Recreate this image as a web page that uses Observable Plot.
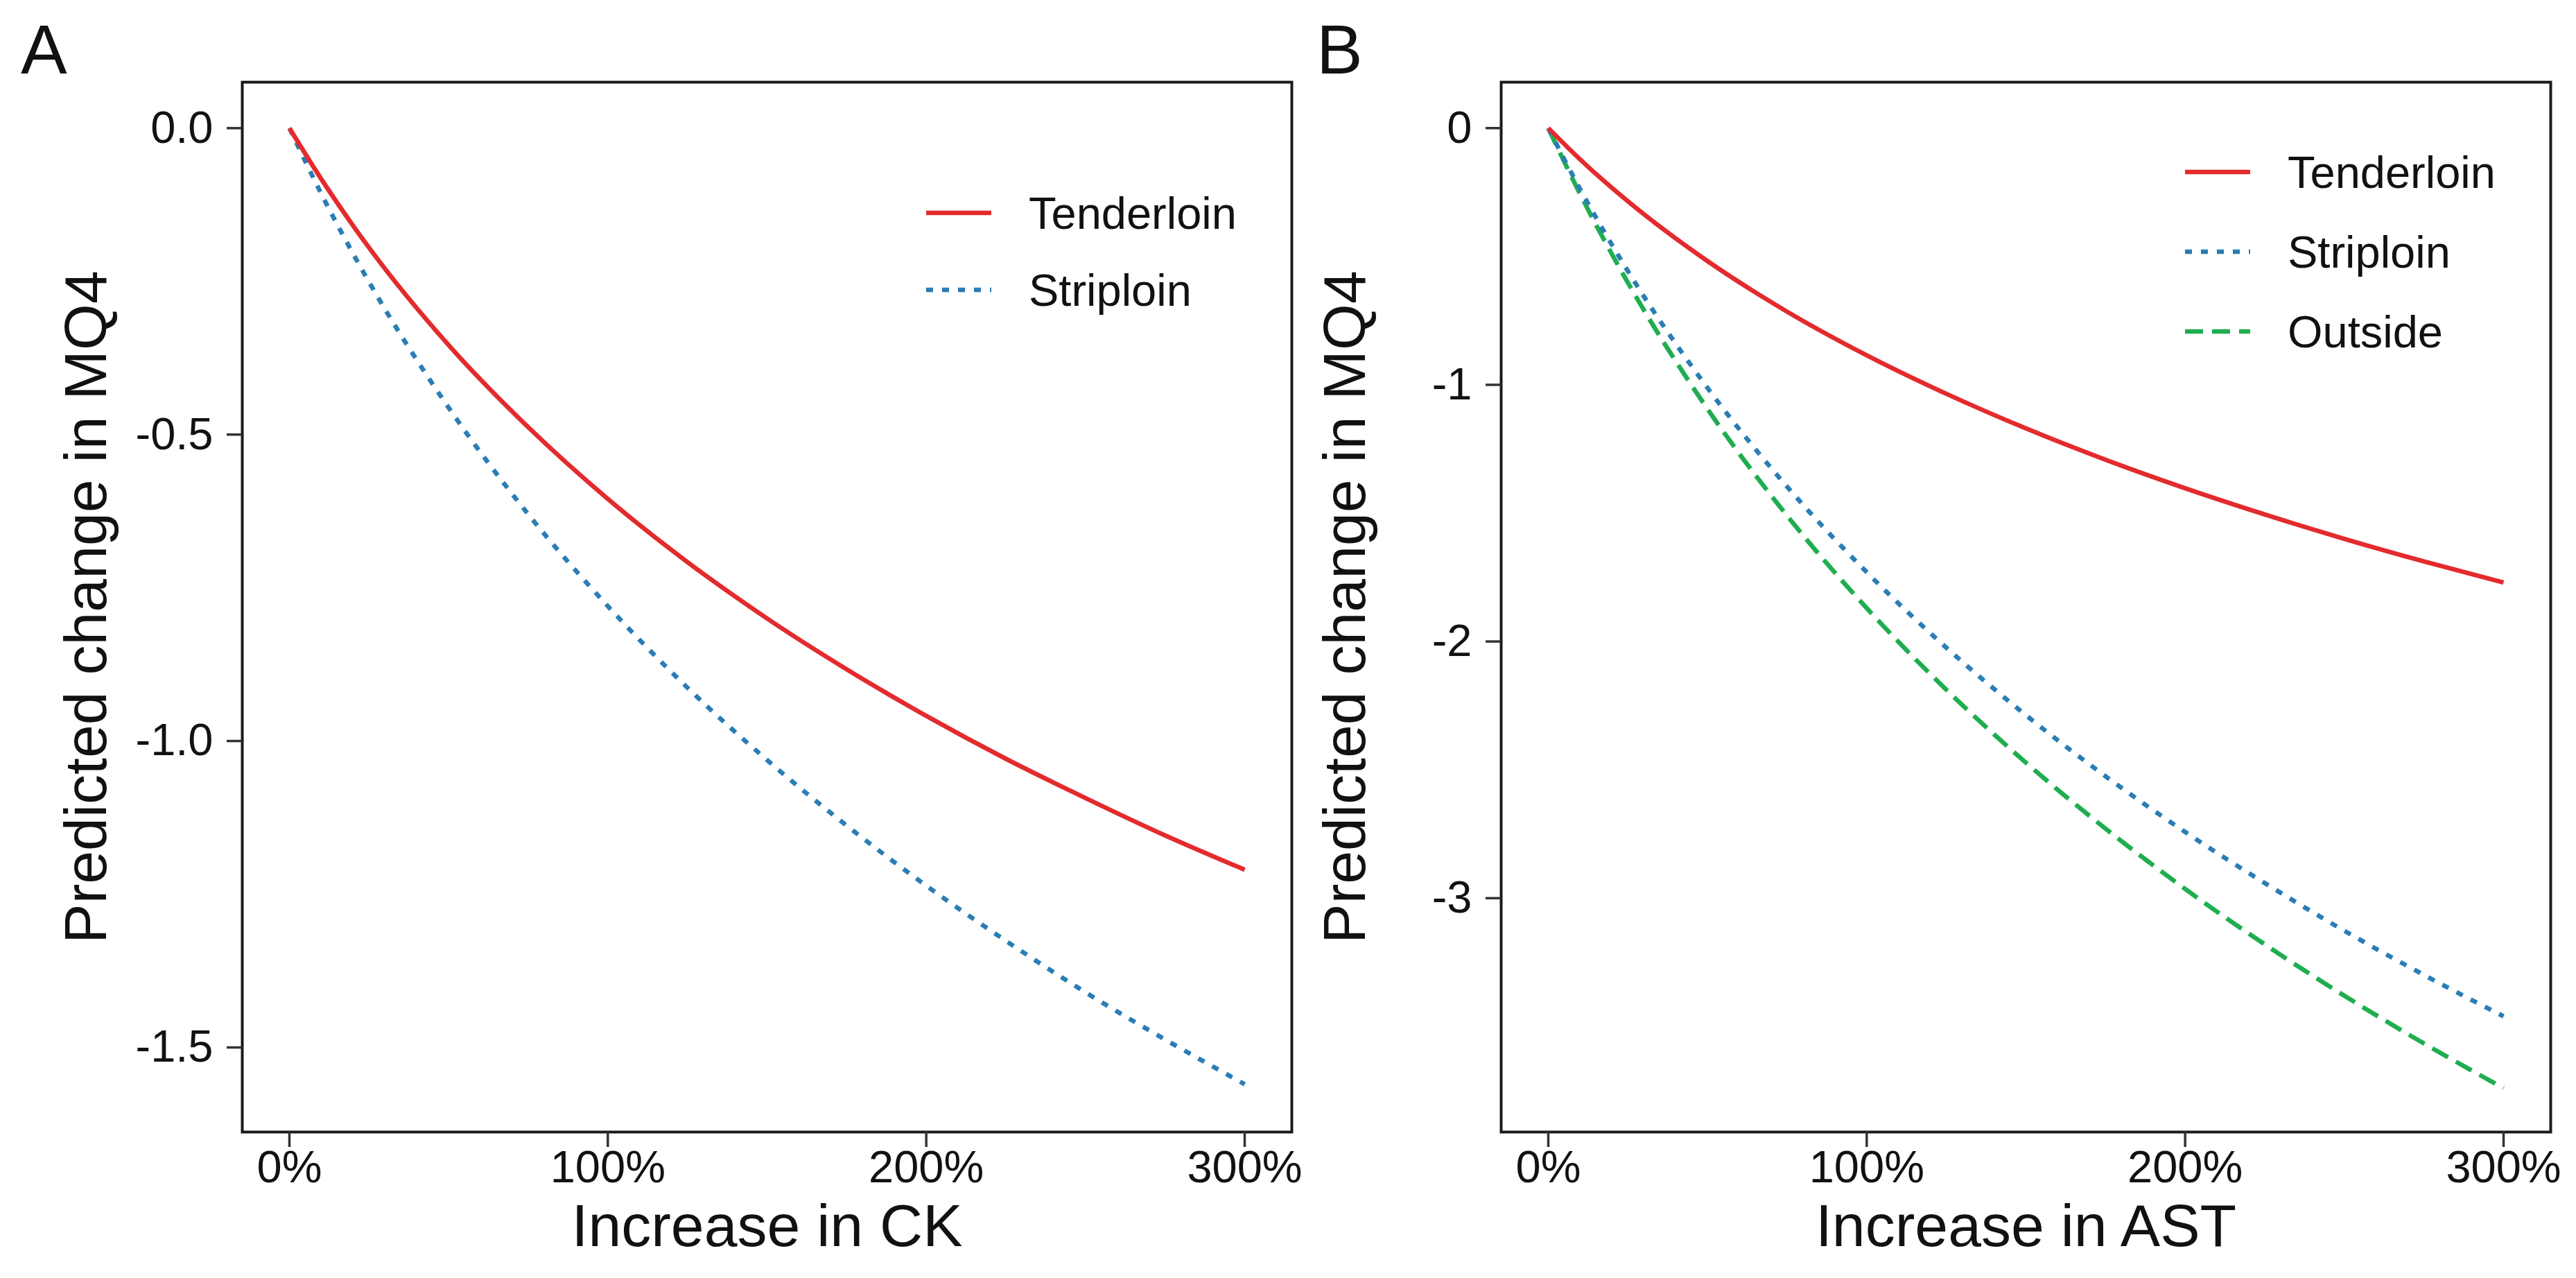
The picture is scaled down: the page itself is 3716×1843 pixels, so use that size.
<!DOCTYPE html>
<html><head><meta charset="utf-8">
<script src="https://cdn.jsdelivr.net/npm/d3@7"></script>
<script src="https://cdn.jsdelivr.net/npm/@observablehq/plot@0.6"></script>
<style>
html,body{margin:0;padding:0;background:#fff;}
#wrap{position:relative;width:3716px;height:1843px;overflow:hidden;background:#fff;}
#wrap > div{position:absolute;top:0;}
</style></head><body>
<div id="wrap"><div id="pa" style="left:0"></div><div id="pb" style="left:1816px"></div></div>
<script>
// Increase (%) in the biomarker
const increase = [0, 10, 25, 50, 75, 100, 125, 150, 175, 200, 225, 250, 275, 300];
const xTickValues = [0, 100, 200, 300];

// Panel A: CK
const ckTenderloin = [0, -0.083, -0.195, -0.354, -0.488, -0.605, -0.708, -0.800, -0.883, -0.959, -1.029, -1.093, -1.154, -1.210];
const ckStriploin  = [0, -0.107, -0.251, -0.456, -0.630, -0.780, -0.913, -1.031, -1.138, -1.236, -1.326, -1.410, -1.487, -1.560];
const ckTicks = [0, -0.5, -1.0, -1.5];

// Panel B: AST
const astTenderloin = [0, -0.122, -0.285, -0.518, -0.715, -0.885, -1.035, -1.170, -1.292, -1.403, -1.505, -1.600, -1.688, -1.770];
const astStriploin  = [0, -0.238, -0.557, -1.012, -1.397, -1.730, -2.024, -2.287, -2.525, -2.742, -2.941, -3.127, -3.299, -3.460];
const astOutside    = [0, -0.257, -0.602, -1.094, -1.510, -1.870, -2.188, -2.472, -2.729, -2.964, -3.180, -3.380, -3.566, -3.740];
const astTicks = [0, -1, -2, -3];

const RED = "#e32b2e", BLUE = "#2a7db5", GREEN = "#1fae4f";
const styles = {
  Tenderloin: {stroke: RED, dash: null},
  Striploin: {stroke: BLUE, dash: "10,13"},
  Outside: {stroke: GREEN, dash: "26,13"}
};
const FONT = "'Liberation Sans', Arial, Helvetica, sans-serif";

function panel({series, yDomain, yTicks, yFormat, xTitle, letter, letterX}) {
  const lines = series.map(s => Plot.line(
    increase.map((v, i) => ({x: v, y: s.values[i]})),
    {x: "x", y: "y", stroke: styles[s.name].stroke, strokeWidth: 6.5,
     strokeDasharray: styles[s.name].dash, strokeLinecap: "butt", curve: "monotone-x"}
  ));
  const svg = Plot.plot({
    width: 1900, height: 1843,
    marginLeft: 349, marginRight: 37, marginTop: 118, marginBottom: 211,
    style: {fontFamily: FONT, background: "transparent", overflow: "visible"},
    x: {domain: [-14.8, 314.8]},
    y: {domain: yDomain},
    marks: [
      ...lines.reverse(),
      Plot.frame({stroke: "#1a1a1a", strokeWidth: 4}),
      Plot.axisX({ticks: xTickValues, tickSize: 22, tickPadding: 4, tickFormat: d => d + "%",
                  fontSize: 65, stroke: "#333", strokeWidth: 3.5, fill: "#111", label: null}),
      Plot.axisY({ticks: yTicks, tickSize: 22, tickPadding: 20, tickFormat: yFormat,
                  fontSize: 65, stroke: "#333", strokeWidth: 3.5, fill: "#111", label: null}),
      Plot.text([xTitle], {text: d => d, frameAnchor: "bottom", dy: 164, fontSize: 86, fill: "#111", textAnchor: "middle"}),
      Plot.text(["Predicted change in MQ4"], {text: d => d, frameAnchor: "left", dx: -224, rotate: -90,
                  fontSize: 86, fill: "#111", textAnchor: "middle"})
    ]
  });
  const g = d3.select(svg).append("g").attr("font-family", FONT).attr("text-anchor", "start");
  g.append("text").attr("x", letterX).attr("y", 106).attr("font-size", 100).attr("fill", "#111").text(letter);
  // legend
  const legendY = series.length === 2 ? [307, 418] : [248, 363, 478];
  series.forEach((s, i) => {
    const y = legendY[i];
    g.append("line").attr("x1", 1336).attr("x2", 1430).attr("y1", y).attr("y2", y)
      .attr("stroke", styles[s.name].stroke).attr("stroke-width", 6.5)
      .attr("stroke-dasharray", styles[s.name].dash).attr("stroke-linecap", "butt");
    g.append("text").attr("x", 1484).attr("y", y).attr("dy", "0.36em")
      .attr("font-size", 65).attr("fill", "#111").text(s.name);
  });
  return svg;
}

document.getElementById("pa").append(panel({
  series: [{name: "Tenderloin", values: ckTenderloin}, {name: "Striploin", values: ckStriploin}],
  yDomain: [-1.638, 0.075], yTicks: ckTicks, yFormat: d => d.toFixed(1),
  xTitle: "Increase in CK", letter: "A", letterX: 30
}));
document.getElementById("pb").append(panel({
  series: [{name: "Tenderloin", values: astTenderloin}, {name: "Striploin", values: astStriploin}, {name: "Outside", values: astOutside}],
  yDomain: [-3.911, 0.179], yTicks: astTicks, yFormat: d => String(d),
  xTitle: "Increase in AST", letter: "B", letterX: 83
}));
</script>
</body></html>
